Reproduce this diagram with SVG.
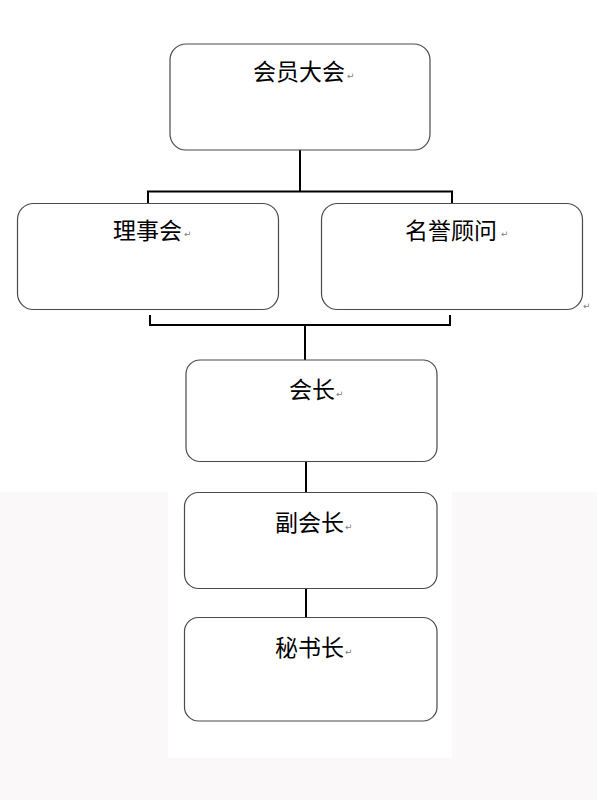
<svg xmlns="http://www.w3.org/2000/svg" width="597" height="800" viewBox="0 0 597 800">
<style>
.box{fill:#ffffff;stroke:#4a4a4a;stroke-width:1.2}
.lbl{font-family:"Noto Sans CJK SC","Noto Sans CJK JP",sans-serif;font-size:23px;fill:#000000}
.mk{font-family:"DejaVu Sans",sans-serif;font-size:9px;fill:#808080}
.con{fill:none;stroke:#000000;stroke-width:2}
</style>
<rect x="0" y="0" width="597" height="800" fill="#ffffff"/>
<rect x="0" y="492" width="597" height="308" fill="#faf8f8"/>
<rect x="168" y="492" width="284" height="266" fill="#ffffff"/>
<g id="connectors">
<path class="con" d="M300 150 V191.5"/>
<path class="con" d="M148 204 V191.5 H452 V204"/>
<path class="con" d="M150 315 V325 H450 V315"/>
<path class="con" d="M305 325 V360"/>
<path class="con" d="M306 462 V493"/>
<path class="con" d="M306 588 V618"/>
</g>
<g id="n-huiyuandahui">
<rect class="box" x="170" y="44" width="260" height="106" rx="16"/>
<text class="lbl" x="253" y="80">会员大会</text>
<text class="mk" x="347" y="79">↵</text>
</g>
<g id="n-lishihui">
<rect class="box" x="17.5" y="203.5" width="261" height="106" rx="16"/>
<text class="lbl" x="113" y="239">理事会</text>
<text class="mk" x="184" y="237">↵</text>
</g>
<g id="n-mingyuguwen">
<rect class="box" x="321.5" y="203.5" width="261" height="106" rx="16"/>
<text class="lbl" x="405" y="239">名誉顾问</text>
<text class="mk" x="501" y="237">↵</text>
<text class="mk" x="583" y="309">↵</text>
</g>
<g id="n-huizhang">
<rect class="box" x="186" y="360" width="251" height="101.5" rx="14"/>
<text class="lbl" x="289" y="398">会长</text>
<text class="mk" x="336" y="397">↵</text>
</g>
<g id="n-fuhuizhang">
<rect class="box" x="184.5" y="492.5" width="252.5" height="96" rx="14"/>
<text class="lbl" x="275" y="531">副会长</text>
<text class="mk" x="345" y="530">↵</text>
</g>
<g id="n-mishuzhang">
<rect class="box" x="184.5" y="617.5" width="252.5" height="103.5" rx="14"/>
<text class="lbl" x="275" y="655.5">秘书长</text>
<text class="mk" x="345" y="655">↵</text>
</g>
</svg>
